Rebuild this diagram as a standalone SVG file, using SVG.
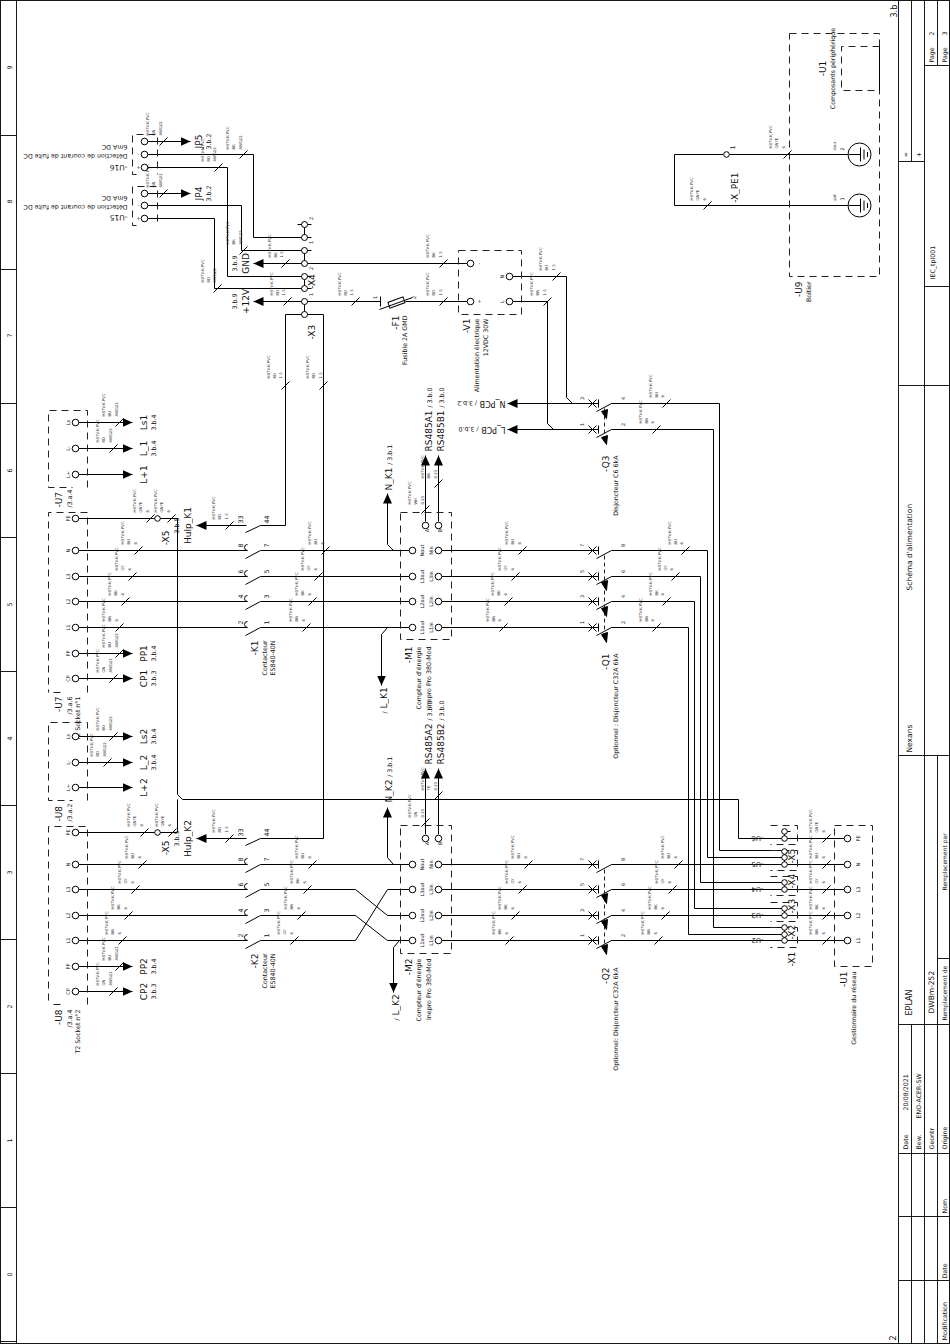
<svg xmlns="http://www.w3.org/2000/svg" width="950" height="1344" viewBox="0 0 950 1344">
<style>
text{font-family:"DejaVu Sans","Liberation Sans",sans-serif;fill:#111;opacity:.99}
.w{font-size:3.9px;fill:#333}.t{font-size:5px}.s{font-size:6.3px}.b{font-size:9px}.m{text-anchor:middle}.e{text-anchor:end}
path,line,rect{fill:none;stroke:#000;stroke-width:1}
.d{stroke:#222;stroke-dasharray:7 5}
.c{fill:#fff;stroke:#000;stroke-width:1}
.f{stroke:#000;stroke-width:.9}
.a{marker-end:url(#ar)}
#ar path{fill:#000;stroke:none}
</style>
<defs>
<marker id="ar" markerUnits="userSpaceOnUse" markerWidth="10" markerHeight="9" refX="10" refY="4.5" orient="auto"><path d="M0 0L10 4.5L0 9z"/></marker>
</defs>
<g transform="translate(.5 .5)">
<g id="frame">
<rect x="0" y="0" width="949" height="1343" class="f"/>
<path class="f" d="M16 0V1344M0 135H16M0 269H16M0 403H16M0 537H16M0 671H16M0 805H16M0 939H16M0 1073H16M0 1207H16M0 1341H16M898 0V1344M924 0V1344M911 0V161M937 0V65M898 161H924M924 65H950M924 286H950M898 385H950M898 755H950M937 755V1344M937 958H950M898 1024H950M911 1024V1344M898 1153H950M898 1216H950M898 1280H950"/>
<g transform="rotate(-90)">
<text class="s m" x="-67" y="11">9</text><text class="s m" x="-201" y="11">8</text><text class="s m" x="-335" y="11">7</text><text class="s m" x="-470" y="11">6</text><text class="s m" x="-604" y="11">5</text><text class="s m" x="-738" y="11">4</text><text class="s m" x="-872" y="11">3</text><text class="s m" x="-1006" y="11">2</text><text class="s m" x="-1140" y="11">1</text><text class="s m" x="-1274" y="11">0</text>
<text class="s" x="-17" y="896" style="font-size:8px">3.b</text>
<text class="s" x="-1340" y="895" style="font-size:8px">2</text>
<text class="s m" x="-154" y="907">=</text><text class="s m" x="-154" y="920">+</text>
<text class="s" x="-35" y="933">2</text><text class="s" x="-35" y="946">3</text>
<text class="s" x="-62" y="933">Page</text><text class="s" x="-62" y="946">Page</text>
<text class="s m" x="-262" y="934">IEC_tpl001</text>
<text class="s" x="-590" y="911" style="font-size:7.5px">Schéma d'alimentation</text>
<text class="s" x="-752" y="911" style="font-size:7.5px">Nexans</text>
<text class="s" x="-890" y="946" style="font-size:6px">Remplacement par</text>
<text class="s" x="-1015" y="911" style="font-size:8px">EPLAN</text>
<text class="s" x="-1013" y="933" style="font-size:7.5px">DWBm-252</text>
<text class="s" x="-1020" y="946" style="font-size:6px">Remplacement de</text>
<text class="s" x="-1110" y="907">20/08/2021</text>
<text class="s" x="-1118" y="920">ENO-ACER-SW</text>
<text class="s" x="-1149" y="907">Date</text><text class="s" x="-1149" y="920">Bew.</text><text class="s" x="-1149" y="933">Geontr</text><text class="s" x="-1149" y="946">Origine</text>
<text class="s" x="-1213" y="946">Nom</text><text class="s" x="-1278" y="946">Date</text><text class="s" x="-1340" y="946">Modification</text>
</g>
</g>
<g id="connectors">
<path d="M147 154H253V237H304M147 167H227V276H304M147 205H241V250H304M147 218H214V288H304M304 263H467M304 301H380M405 301H467M304 314H285V525H260M304 314H323V838H260M512 276H566V397L572 403M512 301H547V423L553 429"/>
<path d="M78 550H247M78 576H247M78 601H247M78 627H247M260 550H409M260 576H409M260 601H409M260 627H409M441 550H598M441 576H598M441 601H598M441 627H598M611 550H707V857H784M611 576H700V882H784M611 601H694V908H784M611 627H688V934H784M611 403H719V850H784M611 429H713V927H784"/>
<path d="M78 518H177M177 518V794L182 799H738V838H844M78 832H177V799M78 864H247M78 889H247M78 915H247M78 940H247M260 864H409M260 889H355L387 915H409M260 915H355L387 940H409M260 940H355L387 889H409M441 864H598M441 889H598M441 915H598M441 940H598M611 864H844M611 889H844M611 915H844M611 940H844"/>
<path d="M723 154H674V205H848M729 154H848M784 831V838M784 851V864M784 882V889M784 908V915M784 927V940M781 831H790M304 224V237M304 250V263M304 276V288M304 301V314M297 224H311M304 237H311M304 250H311M304 276H311M304 288H311"/>
<path class="a" d="M147 141H190"/><path class="a" d="M147 193H190"/><path class="a" d="M304 263H253"/><path class="a" d="M304 301H253"/><path class="a" d="M598 403H507"/><path class="a" d="M598 429H507"/>
<path class="a" d="M78 422H132"/><path class="a" d="M78 448H132"/><path class="a" d="M78 474H132"/><path class="a" d="M78 653H132"/><path class="a" d="M78 678H132"/><path class="a" d="M78 736H132"/><path class="a" d="M78 762H132"/><path class="a" d="M78 787H132"/><path class="a" d="M78 966H132"/><path class="a" d="M78 991H132"/>
<path class="a" d="M246 525H196"/><path class="a" d="M246 838H196"/>
<path class="a" d="M393 550L387 544V493"/><path class="a" d="M393 864L387 857V807"/><path class="a" d="M387 627L381 634V685"/><path class="a" d="M399 940L393 947V992"/>
<path class="a" d="M425 521V455"/><path class="a" d="M438 521V455"/><path class="a" d="M425 834V768"/><path class="a" d="M438 834V768"/>
<path id="ticks" d="M159 145l8-8M159 197l8-8M239 158l8-8M214 171l8-8M239 254l8-8M213 292l8-8M281 267l8-8M283 305l8-8M281 389l8-8M319 389l8-8M439 267l8-8M351 305l8-8M439 305l8-8M552 280l8-8M543 305l8-8M115 426l8-8M109 452l8-8M115 657l8-8M109 682l8-8M146 522l8-8M167 522l8-8M225 529l8-8M134 554l8-8M128 580l8-8M121 605l8-8M115 631l8-8M321 554l8-8M314 580l8-8M308 605l8-8M302 631l8-8M421 513l8-8M434 487l8-8M518 554l8-8M511 580l8-8M504 605l8-8M499 631l8-8M681 554l8-8M671 580l8-8M662 605l8-8M652 631l8-8M662 407l8-8M652 433l8-8M109 740l8-8M103 766l8-8M115 970l8-8M109 995l8-8M140 836l8-8M168 836l8-8M225 842l8-8M138 868l8-8M131 893l8-8M124 919l8-8M118 944l8-8M308 868l8-8M303 893l8-8M297 919l8-8M290 944l8-8M421 826l8-8M434 799l8-8M524 868l8-8M518 893l8-8M511 919l8-8M505 944l8-8M674 868l8-8M668 893l8-8M661 919l8-8M654 944l8-8M822 842l8-8M822 868l8-8M822 893l8-8M822 919l8-8M822 944l8-8M783 158l8-8M703 209l8-8"/>
<g transform="rotate(-90)" id="wire-labels">
<text class="w" x="-135" y="148.5">H07V-K PVC<tspan x="-135" dy="6.3">GN</tspan><tspan x="-135" dy="6.3">AWG22</tspan></text>
<text class="w" x="-187" y="148.5">H07V-K PVC<tspan x="-187" dy="6.3">GN</tspan><tspan x="-187" dy="6.3">AWG22</tspan></text>
<text class="w" x="-149" y="228.5">H07V-K PVC<tspan x="-149" dy="6.3">BK</tspan><tspan x="-149" dy="6.3">AWG22</tspan></text>
<text class="w" x="-161" y="203">H07V-K PVC<tspan x="-161" dy="6.3">RD</tspan><tspan x="-161" dy="6.3">AWG22</tspan></text>
<text class="w" x="-244" y="228.5">H07V-K PVC<tspan x="-244" dy="6.3">BK</tspan><tspan x="-244" dy="6.3">AWG22</tspan></text>
<text class="w" x="-282" y="203">H07V-K PVC<tspan x="-282" dy="6.3">RD</tspan><tspan x="-282" dy="6.3">AWG22</tspan></text>
<text class="w" x="-257" y="270">H07V-K PVC<tspan x="-257" dy="6.3">BK</tspan><tspan x="-257" dy="6.3">1.5</tspan></text>
<text class="w" x="-295" y="272">H07V-K PVC<tspan x="-295" dy="6.3">RD</tspan><tspan x="-295" dy="6.3">1.5</tspan></text>
<text class="w" x="-378" y="269">H07V-K PVC<tspan x="-378" dy="6.3">RD</tspan><tspan x="-378" dy="6.3">1.5</tspan></text>
<text class="w" x="-378" y="308.5">H07V-K PVC<tspan x="-378" dy="6.3">RD</tspan><tspan x="-378" dy="6.3">1.5</tspan></text>
<text class="w" x="-257" y="428.5">H07V-K PVC<tspan x="-257" dy="6.3">BK</tspan><tspan x="-257" dy="6.3">1.5</tspan></text>
<text class="w" x="-295" y="340">H07V-K PVC<tspan x="-295" dy="6.3">RD</tspan><tspan x="-295" dy="6.3">1.5</tspan></text>
<text class="w" x="-295" y="428.5">H07V-K PVC<tspan x="-295" dy="6.3">RD</tspan><tspan x="-295" dy="6.3">1.5</tspan></text>
<text class="w" x="-270" y="541.5">H07V-K PVC<tspan x="-270" dy="6.3">BU</tspan><tspan x="-270" dy="6.3">1.5</tspan></text>
<text class="w" x="-295" y="532.5">H07V-K PVC<tspan x="-295" dy="6.3">BN</tspan><tspan x="-295" dy="6.3">1.5</tspan></text>
<text class="w" x="-416" y="104.5">H07V-K PVC<tspan x="-416" dy="6.3">BU</tspan><tspan x="-416" dy="6.3">AWG22</tspan></text>
<text class="w" x="-442" y="98.5">H07V-K PVC<tspan x="-442" dy="6.3">RD</tspan><tspan x="-442" dy="6.3">AWG22</tspan></text>
<text class="w" x="-647" y="104.5">H07V-K PVC<tspan x="-647" dy="6.3">BU</tspan><tspan x="-647" dy="6.3">AWG22</tspan></text>
<text class="w" x="-672" y="98.5">H07V-K PVC<tspan x="-672" dy="6.3">GN</tspan><tspan x="-672" dy="6.3">AWG22</tspan></text>
<text class="w" x="-512" y="135.5">H07V-K PVC<tspan x="-512" dy="6.3">GNYE</tspan><tspan x="-512" dy="6.3">6</tspan></text>
<text class="w" x="-512" y="156.5">H07V-K PVC<tspan x="-512" dy="6.3">GNYE</tspan><tspan x="-512" dy="6.3">6</tspan></text>
<text class="w" x="-519" y="214.5">H07V-K PVC<tspan x="-519" dy="6.3">RD</tspan><tspan x="-519" dy="6.3">1.5</tspan></text>
<text class="w" x="-544" y="123.5">H07V-K PVC<tspan x="-544" dy="6.3">BU</tspan><tspan x="-544" dy="6.3">6</tspan></text>
<text class="w" x="-570" y="117.5">H07V-K PVC<tspan x="-570" dy="6.3">GY</tspan><tspan x="-570" dy="6.3">6</tspan></text>
<text class="w" x="-595" y="110.5">H07V-K PVC<tspan x="-595" dy="6.3">BK</tspan><tspan x="-595" dy="6.3">6</tspan></text>
<text class="w" x="-621" y="104.5">H07V-K PVC<tspan x="-621" dy="6.3">BN</tspan><tspan x="-621" dy="6.3">6</tspan></text>
<text class="w" x="-544" y="310.5">H07V-K PVC<tspan x="-544" dy="6.3">BU</tspan><tspan x="-544" dy="6.3">6</tspan></text>
<text class="w" x="-570" y="303.5">H07V-K PVC<tspan x="-570" dy="6.3">GY</tspan><tspan x="-570" dy="6.3">6</tspan></text>
<text class="w" x="-595" y="297.5">H07V-K PVC<tspan x="-595" dy="6.3">BK</tspan><tspan x="-595" dy="6.3">6</tspan></text>
<text class="w" x="-621" y="291.5">H07V-K PVC<tspan x="-621" dy="6.3">BN</tspan><tspan x="-621" dy="6.3">6</tspan></text>
<text class="w" x="-504" y="410.5">H07V-K PVC<tspan x="-504" dy="6.3">WH</tspan><tspan x="-504" dy="6.3">0.25</tspan></text>
<text class="w" x="-478" y="423.5">H07V-K PVC<tspan x="-478" dy="6.3">BN</tspan><tspan x="-478" dy="6.3">0.25</tspan></text>
<text class="w" x="-544" y="507.5">H07V-K PVC<tspan x="-544" dy="6.3">BU</tspan><tspan x="-544" dy="6.3">6</tspan></text>
<text class="w" x="-570" y="500.5">H07V-K PVC<tspan x="-570" dy="6.3">GY</tspan><tspan x="-570" dy="6.3">6</tspan></text>
<text class="w" x="-595" y="493.5">H07V-K PVC<tspan x="-595" dy="6.3">BK</tspan><tspan x="-595" dy="6.3">6</tspan></text>
<text class="w" x="-621" y="488">H07V-K PVC<tspan x="-621" dy="6.3">BN</tspan><tspan x="-621" dy="6.3">6</tspan></text>
<text class="w" x="-544" y="670">H07V-K PVC<tspan x="-544" dy="6.3">BU</tspan><tspan x="-544" dy="6.3">6</tspan></text>
<text class="w" x="-570" y="660">H07V-K PVC<tspan x="-570" dy="6.3">GY</tspan><tspan x="-570" dy="6.3">6</tspan></text>
<text class="w" x="-595" y="651">H07V-K PVC<tspan x="-595" dy="6.3">BK</tspan><tspan x="-595" dy="6.3">6</tspan></text>
<text class="w" x="-621" y="641">H07V-K PVC<tspan x="-621" dy="6.3">BN</tspan><tspan x="-621" dy="6.3">6</tspan></text>
<text class="w" x="-397" y="651">H07V-K PVC<tspan x="-397" dy="6.3">BU</tspan><tspan x="-397" dy="6.3">6</tspan></text>
<text class="w" x="-423" y="641">H07V-K PVC<tspan x="-423" dy="6.3">BN</tspan><tspan x="-423" dy="6.3">6</tspan></text>
<text class="w" x="-730" y="98.5">H07V-K PVC<tspan x="-730" dy="6.3">BU</tspan><tspan x="-730" dy="6.3">AWG22</tspan></text>
<text class="w" x="-756" y="92.5">H07V-K PVC<tspan x="-756" dy="6.3">RD</tspan><tspan x="-756" dy="6.3">AWG22</tspan></text>
<text class="w" x="-960" y="104.5">H07V-K PVC<tspan x="-960" dy="6.3">BU</tspan><tspan x="-960" dy="6.3">AWG22</tspan></text>
<text class="w" x="-985" y="98.5">H07V-K PVC<tspan x="-985" dy="6.3">GN</tspan><tspan x="-985" dy="6.3">AWG22</tspan></text>
<text class="w" x="-826" y="129.5">H07V-K PVC<tspan x="-826" dy="6.3">GNYE</tspan><tspan x="-826" dy="6.3">6</tspan></text>
<text class="w" x="-826" y="157.5">H07V-K PVC<tspan x="-826" dy="6.3">GNYE</tspan><tspan x="-826" dy="6.3">6</tspan></text>
<text class="w" x="-832" y="214.5">H07V-K PVC<tspan x="-832" dy="6.3">RD</tspan><tspan x="-832" dy="6.3">1.5</tspan></text>
<text class="w" x="-858" y="127.5">H07V-K PVC<tspan x="-858" dy="6.3">BU</tspan><tspan x="-858" dy="6.3">6</tspan></text>
<text class="w" x="-883" y="120.5">H07V-K PVC<tspan x="-883" dy="6.3">GY</tspan><tspan x="-883" dy="6.3">6</tspan></text>
<text class="w" x="-909" y="113.5">H07V-K PVC<tspan x="-909" dy="6.3">BK</tspan><tspan x="-909" dy="6.3">6</tspan></text>
<text class="w" x="-934" y="107.5">H07V-K PVC<tspan x="-934" dy="6.3">BN</tspan><tspan x="-934" dy="6.3">6</tspan></text>
<text class="w" x="-858" y="297.5">H07V-K PVC<tspan x="-858" dy="6.3">BU</tspan><tspan x="-858" dy="6.3">6</tspan></text>
<text class="w" x="-883" y="292.5">H07V-K PVC<tspan x="-883" dy="6.3">BK</tspan><tspan x="-883" dy="6.3">6</tspan></text>
<text class="w" x="-909" y="286.5">H07V-K PVC<tspan x="-909" dy="6.3">BN</tspan><tspan x="-909" dy="6.3">6</tspan></text>
<text class="w" x="-934" y="279.5">H07V-K PVC<tspan x="-934" dy="6.3">GY</tspan><tspan x="-934" dy="6.3">6</tspan></text>
<text class="w" x="-817" y="410.5">H07V-K PVC<tspan x="-817" dy="6.3">GN</tspan><tspan x="-817" dy="6.3">0.25</tspan></text>
<text class="w" x="-790" y="423.5">H07V-K PVC<tspan x="-790" dy="6.3">YE</tspan><tspan x="-790" dy="6.3">0.25</tspan></text>
<text class="w" x="-858" y="513.5">H07V-K PVC<tspan x="-858" dy="6.3">BU</tspan><tspan x="-858" dy="6.3">6</tspan></text>
<text class="w" x="-883" y="507.5">H07V-K PVC<tspan x="-883" dy="6.3">GY</tspan><tspan x="-883" dy="6.3">6</tspan></text>
<text class="w" x="-909" y="500.5">H07V-K PVC<tspan x="-909" dy="6.3">BK</tspan><tspan x="-909" dy="6.3">6</tspan></text>
<text class="w" x="-934" y="494.5">H07V-K PVC<tspan x="-934" dy="6.3">BN</tspan><tspan x="-934" dy="6.3">6</tspan></text>
<text class="w" x="-858" y="663.5">H07V-K PVC<tspan x="-858" dy="6.3">BU</tspan><tspan x="-858" dy="6.3">6</tspan></text>
<text class="w" x="-883" y="657.5">H07V-K PVC<tspan x="-883" dy="6.3">GY</tspan><tspan x="-883" dy="6.3">6</tspan></text>
<text class="w" x="-909" y="650.5">H07V-K PVC<tspan x="-909" dy="6.3">BK</tspan><tspan x="-909" dy="6.3">6</tspan></text>
<text class="w" x="-934" y="643.5">H07V-K PVC<tspan x="-934" dy="6.3">BN</tspan><tspan x="-934" dy="6.3">6</tspan></text>
<text class="w" x="-832" y="811.5">H07V-K PVC<tspan x="-832" dy="6.3">GNYE</tspan><tspan x="-832" dy="6.3">6</tspan></text>
<text class="w" x="-858" y="811.5">H07V-K PVC<tspan x="-858" dy="6.3">BU</tspan><tspan x="-858" dy="6.3">6</tspan></text>
<text class="w" x="-883" y="811.5">H07V-K PVC<tspan x="-883" dy="6.3">GY</tspan><tspan x="-883" dy="6.3">6</tspan></text>
<text class="w" x="-909" y="811.5">H07V-K PVC<tspan x="-909" dy="6.3">BK</tspan><tspan x="-909" dy="6.3">6</tspan></text>
<text class="w" x="-934" y="811.5">H07V-K PVC<tspan x="-934" dy="6.3">BN</tspan><tspan x="-934" dy="6.3">6</tspan></text>
<text class="w" x="-148" y="771.5">H07V-K PVC<tspan x="-148" dy="6.3">GNYE</tspan><tspan x="-148" dy="6.3">6</tspan></text>
<text class="w" x="-200" y="692.5">H07V-K PVC<tspan x="-200" dy="6.3">GNYE</tspan><tspan x="-200" dy="6.3">6</tspan></text>
</g>
</g>
<g id="U16">
<path class="d" d="M136 174H132V134H157V174"/>
<circle class="c" cx="144" cy="141" r="3.3"/><circle class="c" cx="144" cy="154" r="3.3"/><circle class="c" cx="144" cy="167" r="3.3"/>
<g transform="rotate(180)"><text class="s" x="-127" y="-164.5" style="font-size:7.5px">-U16</text><text class="s" x="-127" y="-153.5">Détection de courant de fuite DC</text><text class="s" x="-127" y="-144.5">6mA DC</text></g>
<g transform="rotate(-90)"><text class="t m" x="-167" y="139">+</text><text class="t m" x="-154" y="139">-</text></g>
</g>
<g id="U15">
<path class="d" d="M136 225H132V186H157V225"/>
<circle class="c" cx="144" cy="193" r="3.3"/><circle class="c" cx="144" cy="205" r="3.3"/><circle class="c" cx="144" cy="218" r="3.3"/>
<g transform="rotate(180)"><text class="s" x="-127" y="-214.5" style="font-size:7.5px">-U15</text><text class="s" x="-127" y="-204.5">Détection de courant de fuite DC</text><text class="s" x="-127" y="-195.5">6mA DC</text></g>
<g transform="rotate(-90)"><text class="t m" x="-218" y="139">+</text><text class="t m" x="-205" y="139">-</text></g>
</g>
<g id="refs-upper" transform="rotate(-90)">
<text class="b m" x="-141" y="201">JP5</text><text class="s m" x="-141" y="210">3.b.2</text>
<text class="b m" x="-193" y="201">JP4</text><text class="s m" x="-193" y="210">3.b.2</text>
<text class="b m" x="-263" y="248">GND</text><text class="s m" x="-263" y="236">3.b.9</text>
<text class="b m" x="-301" y="248">+12V</text><text class="s m" x="-301" y="236">3.b.9</text>
</g>
<g id="X4">
<circle class="c" cx="304" cy="224" r="3"/><circle class="c" cx="304" cy="237" r="3"/><circle class="c" cx="304" cy="250" r="3"/><circle class="c" cx="304" cy="263" r="3"/>
<circle class="c" cx="304" cy="276" r="3"/><circle class="c" cx="304" cy="288" r="3"/><circle class="c" cx="304" cy="301" r="3"/><circle class="c" cx="304" cy="314" r="3"/>
<g transform="rotate(-90)"><text class="t m" x="-218" y="312">2</text><text class="t m" x="-242" y="312">1</text><text class="t m" x="-268" y="312">2</text><text class="t m" x="-294" y="312">1</text>
<text class="b m" x="-281" y="314">-X4</text><text class="b" x="-339" y="314">-X3</text></g>
</g>
<g id="F1">
<path d="M380 296V306M379 309L412 297"/>
<rect x="388" y="299" width="16" height="6" transform="rotate(-20 396 302)"/>
<g transform="rotate(-90)"><text class="t m" x="-297" y="376">1</text><text class="t m" x="-297" y="415">2</text>
<text class="b e" x="-315" y="398">-F1</text><text class="s e" x="-315" y="406">Fusible 2A GMD</text></g>
</g>
<g id="V1">
<rect class="d" x="458" y="250" width="63" height="64"/>
<circle class="c" cx="470" cy="263" r="3.3"/><circle class="c" cx="470" cy="301" r="3.3"/><circle class="c" cx="509" cy="276" r="3.3"/><circle class="c" cx="509" cy="301" r="3.3"/>
<g transform="rotate(-90)"><text class="t m" x="-263" y="480">-</text><text class="t m" x="-301" y="480">+</text><text class="t m" x="-276" y="503">N</text><text class="t m" x="-301" y="503">L</text>
<text class="b e" x="-318" y="469">-V1</text><text class="s e" x="-318" y="478">Alimentation électrique</text><text class="s e" x="-318" y="487">12VDC 30W</text></g>
</g>
<g id="PCB" transform="rotate(180)">
<text class="s" x="-505" y="-400" style="font-size:8px">N_PCB <tspan class="s">/ 3.b.2</tspan></text>
<text class="s" x="-505" y="-426" style="font-size:8px">L_PCB <tspan class="s">/ 3.b.0</tspan></text>
</g>
<g id="Q3">
<path d="M588 399L596 407M588 407L596 399M598 399V407M596 411L611 403M588 425L596 433M588 433L596 425M598 425V433M596 437L611 429"/>
<path class="d" style="stroke-dasharray:4 3" d="M604 408V436"/>
<path style="fill:#000" d="M601 411L607 409L606 418zM601 437L607 435L606 444z"/>
<g transform="rotate(-90)"><text class="t m" x="-398" y="583">3</text><text class="t m" x="-398" y="624">4</text><text class="t m" x="-424" y="583">1</text><text class="t m" x="-424" y="624">2</text>
<text class="b e" x="-455" y="608">-Q3</text><text class="s e" x="-455" y="617">Disjoncteur C6 6kA</text></g>
</g>
<g id="Q1">
<path d="M588 546L596 554M588 554L596 546M598 546V554M596 558L611 550M588 572L596 580M588 580L596 572M598 572V580M596 584L611 576M588 597L596 605M588 605L596 597M598 597V605M596 609L611 601M588 623L596 631M588 631L596 623M598 623V631M596 635L611 627"/>
<path class="d" style="stroke-dasharray:4 3" d="M604 555V632"/>
<path style="fill:#000" d="M601 582L607 580L606 590zM601 608L607 606L606 616zM601 634L607 632L606 642z"/>
<g transform="rotate(-90)"><text class="t m" x="-545" y="583">7</text><text class="t m" x="-545" y="624">8</text><text class="t m" x="-571" y="583">5</text><text class="t m" x="-571" y="624">6</text><text class="t m" x="-596" y="583">3</text><text class="t m" x="-596" y="624">4</text><text class="t m" x="-622" y="583">1</text><text class="t m" x="-622" y="624">2</text>
<text class="b e" x="-653" y="608">-Q1</text><text class="s e" x="-653" y="617">Optionnel : Disjoncteur C32A 6kA</text></g>
</g>
<g id="Q2">
<path d="M588 860L596 868M588 868L596 860M598 860V868M596 872L611 864M588 885L596 893M588 893L596 885M598 885V893M596 897L611 889M588 911L596 919M588 919L596 911M598 911V919M596 923L611 915M588 936L596 944M588 944L596 936M598 936V944M596 948L611 940"/>
<path class="d" style="stroke-dasharray:4 3" d="M604 869V945"/>
<path style="fill:#000" d="M601 895L607 893L606 903zM601 921L607 919L606 929zM601 946L607 944L606 954z"/>
<g transform="rotate(-90)"><text class="t m" x="-859" y="583">7</text><text class="t m" x="-859" y="624">8</text><text class="t m" x="-884" y="583">5</text><text class="t m" x="-884" y="624">6</text><text class="t m" x="-910" y="583">3</text><text class="t m" x="-910" y="624">4</text><text class="t m" x="-935" y="583">1</text><text class="t m" x="-935" y="624">2</text>
<text class="b e" x="-967" y="608">-Q2</text><text class="s e" x="-967" y="617">Optionnel: Disjoncteur C32A 6kA</text></g>
</g>
<g id="U7">
<path class="d" d="M87 487V410H48V487H72"/><path class="d" d="M60 692H48M87 692V512H48V692"/>
<circle class="c" cx="75" cy="422" r="3.3"/><circle class="c" cx="75" cy="448" r="3.3"/><circle class="c" cx="75" cy="474" r="3.3"/><circle class="c" cx="75" cy="518" r="3.3"/><circle class="c" cx="75" cy="550" r="3.3"/><circle class="c" cx="75" cy="576" r="3.3"/><circle class="c" cx="75" cy="601" r="3.3"/><circle class="c" cx="75" cy="627" r="3.3"/><circle class="c" cx="75" cy="653" r="3.3"/><circle class="c" cx="75" cy="678" r="3.3"/>
<g transform="rotate(-90)">
<text class="t m" x="-422" y="69">Ls</text><text class="t m" x="-448" y="69">L-</text><text class="t m" x="-474" y="69">L+</text><text class="t m" x="-518" y="69">PE</text><text class="t m" x="-550" y="69">N</text><text class="t m" x="-576" y="69">L3</text><text class="t m" x="-601" y="69">L2</text><text class="t m" x="-627" y="69">L1</text><text class="t m" x="-653" y="69">PP</text><text class="t m" x="-678" y="69">CP</text>
<text class="b" x="-507" y="61">-U7</text><text class="s" x="-507" y="71">/3.a.4</text>
<text class="b e" x="-696" y="61">-U7</text><text class="s e" x="-696" y="71">/3.a.6</text><text class="s e" x="-696" y="79">T2 Socket n°1</text>
<text class="b m" x="-422" y="146">Ls1</text><text class="s m" x="-422" y="155">3.b.4</text>
<text class="b m" x="-448" y="146">L_1</text><text class="s m" x="-448" y="155">3.b.4</text>
<text class="b m" x="-474" y="146">L+1</text>
<text class="b m" x="-653" y="146">PP1</text><text class="s m" x="-653" y="155">3.b.4</text>
<text class="b m" x="-678" y="146">CP1</text><text class="s m" x="-678" y="155">3.b.3</text>
</g>
</g>
<g id="U8">
<path class="d" d="M87 800V722H48V800H72"/><path class="d" d="M60 1004H48M87 1004V826H48V1004"/>
<circle class="c" cx="75" cy="736" r="3.3"/><circle class="c" cx="75" cy="762" r="3.3"/><circle class="c" cx="75" cy="787" r="3.3"/><circle class="c" cx="75" cy="832" r="3.3"/><circle class="c" cx="75" cy="864" r="3.3"/><circle class="c" cx="75" cy="889" r="3.3"/><circle class="c" cx="75" cy="915" r="3.3"/><circle class="c" cx="75" cy="940" r="3.3"/><circle class="c" cx="75" cy="966" r="3.3"/><circle class="c" cx="75" cy="991" r="3.3"/>
<g transform="rotate(-90)">
<text class="t m" x="-736" y="69">Ls</text><text class="t m" x="-762" y="69">L-</text><text class="t m" x="-787" y="69">L+</text><text class="t m" x="-832" y="69">PE</text><text class="t m" x="-864" y="69">N</text><text class="t m" x="-889" y="69">L3</text><text class="t m" x="-915" y="69">L2</text><text class="t m" x="-940" y="69">L1</text><text class="t m" x="-966" y="69">PP</text><text class="t m" x="-991" y="69">CP</text>
<text class="b" x="-821" y="61">-U8</text><text class="s" x="-821" y="71">/3.a.2</text>
<text class="b e" x="-1009" y="61">-U8</text><text class="s e" x="-1009" y="71">/3.a.4</text><text class="s e" x="-1009" y="79">T2 Socket n°2</text>
<text class="b m" x="-736" y="146">Ls2</text><text class="s m" x="-736" y="155">3.b.4</text>
<text class="b m" x="-762" y="146">L_2</text><text class="s m" x="-762" y="155">3.b.4</text>
<text class="b m" x="-787" y="146">L+2</text>
<text class="b m" x="-966" y="146">PP2</text><text class="s m" x="-966" y="155">3.b.4</text>
<text class="b m" x="-991" y="146">CP2</text><text class="s m" x="-991" y="155">3.b.3</text>
</g>
</g>
<g id="X5a"><circle class="c" cx="157" cy="518" r="2.8"/><g transform="rotate(-90)"><text class="b e" x="-530" y="168">-X5</text><text class="s m" x="-525" y="178">3.b.5</text><text class="b m" x="-525" y="190">Hulp_K1</text></g></g>
<g id="X5b"><circle class="c" cx="157" cy="832" r="2.8"/><g transform="rotate(-90)"><text class="b e" x="-840" y="168">-X5</text><text class="s m" x="-838" y="178">3.b.5</text><text class="b m" x="-838" y="190">Hulp_K2</text></g></g>
<g id="K1">
<path d="M245 532L260 525M245 558L260 550M245 584L260 576M245 609L260 601M245 635L260 627M247 550a3 3 0 0 1 -3 -3a3 3 0 0 1 3 -3M247 576a3 3 0 0 1 -3 -3a3 3 0 0 1 3 -3M247 601a3 3 0 0 1 -3 -3a3 3 0 0 1 3 -3M247 627a3 3 0 0 1 -3 -3a3 3 0 0 1 3 -3"/>
<g transform="rotate(-90)"><text class="s m" x="-519" y="242">33</text><text class="s m" x="-519" y="268">44</text><text class="s m" x="-545" y="242">8</text><text class="s m" x="-545" y="268">7</text><text class="s m" x="-571" y="242">6</text><text class="s m" x="-571" y="268">5</text><text class="s m" x="-596" y="242">4</text><text class="s m" x="-596" y="268">3</text><text class="s m" x="-622" y="242">2</text><text class="s m" x="-622" y="268">1</text>
<text class="b e" x="-640" y="257">-K1</text><text class="s e" x="-640" y="266">Contacteur</text><text class="s e" x="-640" y="274">ES840-40N</text></g>
</g>
<g id="K2">
<path d="M245 845L260 838M245 872L260 864M245 897L260 889M245 923L260 915M245 948L260 940M247 864a3 3 0 0 1 -3 -3a3 3 0 0 1 3 -3M247 889a3 3 0 0 1 -3 -3a3 3 0 0 1 3 -3M247 915a3 3 0 0 1 -3 -3a3 3 0 0 1 3 -3M247 940a3 3 0 0 1 -3 -3a3 3 0 0 1 3 -3"/>
<g transform="rotate(-90)"><text class="s m" x="-832" y="242">33</text><text class="s m" x="-832" y="268">44</text><text class="s m" x="-859" y="242">8</text><text class="s m" x="-859" y="268">7</text><text class="s m" x="-884" y="242">6</text><text class="s m" x="-884" y="268">5</text><text class="s m" x="-910" y="242">4</text><text class="s m" x="-910" y="268">3</text><text class="s m" x="-935" y="242">2</text><text class="s m" x="-935" y="268">1</text>
<text class="b e" x="-953" y="257">-K2</text><text class="s e" x="-953" y="266">Contacteur</text><text class="s e" x="-953" y="274">ES840-40N</text></g>
</g>
<g id="M1">
<rect class="d" x="400" y="512" width="51" height="127"/>
<circle class="c" cx="425" cy="525" r="3.3"/><circle class="c" cx="438" cy="525" r="3.3"/><circle class="c" cx="412" cy="550" r="3.3"/><circle class="c" cx="412" cy="576" r="3.3"/><circle class="c" cx="412" cy="601" r="3.3"/><circle class="c" cx="412" cy="627" r="3.3"/><circle class="c" cx="438" cy="550" r="3.3"/><circle class="c" cx="438" cy="576" r="3.3"/><circle class="c" cx="438" cy="601" r="3.3"/><circle class="c" cx="438" cy="627" r="3.3"/>
<g transform="rotate(-90)"><text class="t m" x="-530" y="428">A</text><text class="t m" x="-530" y="441">B</text><text class="t m" x="-550" y="423">Nout</text><text class="t m" x="-576" y="423">L3out</text><text class="t m" x="-601" y="423">L2out</text><text class="t m" x="-627" y="423">L1out</text><text class="t m" x="-550" y="432">Nin</text><text class="t m" x="-576" y="432">L3in</text><text class="t m" x="-601" y="432">L2in</text><text class="t m" x="-627" y="432">L1in</text>
<text class="b e" x="-646" y="411">-M1</text><text class="s e" x="-646" y="420">Compteur d'énergie</text><text class="s e" x="-646" y="430">Inepro Pro 380-Mod</text>
<text class="b" x="-451" y="431">RS485A1 <tspan class="s">/ 3.b.0</tspan></text><text class="b" x="-451" y="443">RS485B1 <tspan class="s">/ 3.b.0</tspan></text>
<text class="b" x="-490" y="391">N_K1 <tspan class="s">/ 3.b.1</tspan></text><text class="b" x="-713" y="386"><tspan class="s">/</tspan> L_K1</text></g>
</g>
<g id="M2">
<rect class="d" x="400" y="825" width="51" height="128"/>
<circle class="c" cx="425" cy="838" r="3.3"/><circle class="c" cx="438" cy="838" r="3.3"/><circle class="c" cx="412" cy="864" r="3.3"/><circle class="c" cx="412" cy="889" r="3.3"/><circle class="c" cx="412" cy="915" r="3.3"/><circle class="c" cx="412" cy="940" r="3.3"/><circle class="c" cx="438" cy="864" r="3.3"/><circle class="c" cx="438" cy="889" r="3.3"/><circle class="c" cx="438" cy="915" r="3.3"/><circle class="c" cx="438" cy="940" r="3.3"/>
<g transform="rotate(-90)"><text class="t m" x="-843" y="428">A</text><text class="t m" x="-843" y="441">B</text><text class="t m" x="-864" y="423">Nout</text><text class="t m" x="-889" y="423">L3out</text><text class="t m" x="-915" y="423">L2out</text><text class="t m" x="-940" y="423">L1out</text><text class="t m" x="-864" y="432">Nin</text><text class="t m" x="-889" y="432">L3in</text><text class="t m" x="-915" y="432">L2in</text><text class="t m" x="-940" y="432">L1in</text>
<text class="b e" x="-958" y="411">-M2</text><text class="s e" x="-958" y="420">Compteur d'énergie</text><text class="s e" x="-958" y="430">Inepro Pro 380-Mod</text>
<text class="b" x="-764" y="431">RS485A2 <tspan class="s">/ 3.b.0</tspan></text><text class="b" x="-764" y="443">RS485B2 <tspan class="s">/ 3.b.0</tspan></text>
<text class="b" x="-802" y="391">N_K2 <tspan class="s">/ 3.b.1</tspan></text><text class="b" x="-1020" y="398"><tspan class="s">/</tspan> L_K2</text></g>
</g>
<g id="X-block">
<path class="d" d="M770 825H797V844H770M770 850H797V870H770M770 876H797V895H770M770 902H797V921H770M770 927H797V947H770"/>
<circle class="c" cx="784" cy="831" r="2.8"/><circle class="c" cx="784" cy="838" r="2.8"/><circle class="c" cx="784" cy="851" r="2.8"/><circle class="c" cx="784" cy="857" r="2.8"/><circle class="c" cx="784" cy="864" r="2.8"/><circle class="c" cx="784" cy="882" r="2.8"/><circle class="c" cx="784" cy="889" r="2.8"/><circle class="c" cx="784" cy="908" r="2.8"/><circle class="c" cx="784" cy="915" r="2.8"/><circle class="c" cx="784" cy="927" r="2.8"/><circle class="c" cx="784" cy="934" r="2.8"/><circle class="c" cx="784" cy="940" r="2.8"/>
<g transform="rotate(-90)"><text class="b" x="-863" y="794">-X5</text><text class="b" x="-888" y="794">-X4</text><text class="b" x="-913" y="794">-X3</text><text class="b" x="-939" y="794">-X2</text><text class="b" x="-966" y="794">-X1</text></g>
<g transform="rotate(180)"><text class="s" x="-763" y="-835" style="font-size:7px">-U6</text><text class="s" x="-763" y="-861" style="font-size:7px">-U5</text><text class="s" x="-763" y="-886" style="font-size:7px">-U4</text><text class="s" x="-763" y="-912" style="font-size:7px">-U3</text><text class="s" x="-763" y="-937" style="font-size:7px">-U2</text></g>
</g>
<g id="U1">
<rect class="d" x="834" y="825" width="38" height="141"/>
<circle class="c" cx="847" cy="838" r="3.3"/><circle class="c" cx="847" cy="864" r="3.3"/><circle class="c" cx="847" cy="889" r="3.3"/><circle class="c" cx="847" cy="915" r="3.3"/><circle class="c" cx="847" cy="940" r="3.3"/>
<g transform="rotate(-90)"><text class="t m" x="-838" y="859">PE</text><text class="t m" x="-864" y="859">N</text><text class="t m" x="-889" y="859">L3</text><text class="t m" x="-915" y="859">L2</text><text class="t m" x="-940" y="859">L1</text>
<text class="b e" x="-971" y="846">-U1</text><text class="s e" x="-971" y="855">Gestionnaire du réseau</text></g>
</g>
<g id="U9">
<rect class="d" x="789" y="33" width="90" height="243"/>
<circle class="c" cx="859" cy="154" r="11.5"/><circle class="c" cx="859" cy="205" r="11.5"/>
<path d="M848 154H860M860 147V161M863.5 149V159M867 151.5V156.5M848 205H860M860 198V212M863.5 200V210M867 202.5V207.5"/>
<g transform="rotate(-90)"><text class="w" x="-150" y="835">deur</text><text class="t" x="-150" y="843">2</text><text class="w" x="-200" y="835">pot</text><text class="t" x="-200" y="843">1</text>
<text class="b e" x="-281" y="801">-U9</text><text class="s e" x="-281" y="810">Boîtier</text></g>
</g>
<g id="U1-peripheral">
<path class="d" d="M879 46H841V90H879"/><path d="M879 46V90"/>
<g transform="rotate(-90)"><text class="b m" x="-68" y="825">-U1</text><text class="s m" x="-68" y="834">Composants périphérique</text></g>
</g>
<g id="X_PE1">
<circle class="c" cx="726" cy="154" r="2.8"/>
<g transform="rotate(-90)"><text class="s m" x="-147" y="734">1</text><text class="b e" x="-172" y="737">-X_PE1</text></g>
</g>
</g>
</svg>
